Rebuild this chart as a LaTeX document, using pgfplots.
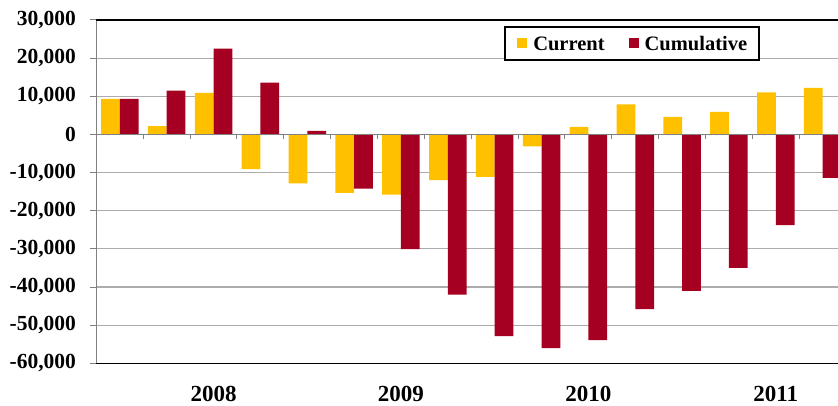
\documentclass[border=0pt]{standalone}
\usepackage{pgfplots}
\usepackage{pgfplotstable}
\pgfplotsset{compat=1.18}
\usepackage{fontspec}
\setmainfont{Liberation Serif}
\definecolor{cyel}{HTML}{FFC000}
\definecolor{cred}{HTML}{A50021}
\pgfplotstableread{
i cur cum
0 9300 9300
1 2200 11500
2 10900 22500
3 -9100 13600
4 -12800 900
5 -15300 -14200
6 -15800 -30100
7 -12000 -42000
8 -11100 -52900
9 -3100 -56000
10 2000 -53900
11 7900 -45800
12 4600 -41000
13 5900 -35000
14 11000 -23800
15 12200 -11400
}\datatable
\begin{document}
\begin{tikzpicture}
\useasboundingbox (0,0) rectangle (838bp,406bp);
\begin{axis}[
 at={(96.4bp,42.7bp)}, anchor=south west,
 scale only axis, width=741.6bp, height=343.3bp,
 xmin=-0.5, xmax=15.327, ymin=-60000, ymax=30000,
 scaled y ticks=false,
 axis line style={draw=none},
 clip mode=individual,
 ybar, bar width=0.4,
 ytick={-60000,-50000,-40000,-30000,-20000,-10000,0,10000,20000,30000},
 yticklabels={{-60,000},{-50,000},{-40,000},{-30,000},{-20,000},{-10,000},{0},{10,000},{20,000},{30,000}},
 xtick={2,6,10,14}, xticklabels={2008,2009,2010,2011},
 tick align=outside, major tick length=6bp, tick pos=left,
 xtick style={draw=none},
 ytick style={draw=gray, line width=1bp},
 ymajorgrids, grid style={draw=gray!65, line width=1.2bp},
 yticklabel style={font=\fontsize{21.5bp}{24bp}\selectfont\bfseries, xshift=-11bp},
 xticklabel style={font=\fontsize{23bp}{26bp}\selectfont\bfseries, text depth=0bp, yshift=-13bp},
 legend columns=2,
 legend image code/.code={\fill[#1] (0bp,-5bp) rectangle (10bp,5bp);},
 legend style={at={(0.7225,0.9316)}, anchor=center, draw=black, line width=2bp,
   inner xsep=12bp, inner ysep=9.5bp,
   cells={anchor=center},
   nodes={inner sep=0bp, text height=14bp, text depth=0bp, font=\fontsize{20.5bp}{24bp}\selectfont\bfseries},
   /tikz/every odd column/.append style={column sep=6bp},
   /tikz/every even column/.append style={column sep=24bp}},
]
\addplot[fill=cyel, draw=none, bar shift=-0.2] table[x=i,y=cur]{\datatable};
\addplot[fill=cred, draw=none, bar shift=0.2] table[x=i,y=cum]{\datatable};
\legend{Current,Cumulative}
\draw[gray, line width=1.2bp] (axis cs:-0.5,0) -- (axis cs:15.327,0);
\pgfplotsinvokeforeach{0.5,1.5,2.5,3.5,4.5,5.5,6.5,7.5,8.5,9.5,10.5,11.5,12.5,13.5,14.5}{\draw[gray,line width=1bp] (axis cs:#1,0) -- ([yshift=-5bp]axis cs:#1,0);}
\draw[gray, line width=1.2bp] (rel axis cs:0,0) -- (rel axis cs:0,1);
\draw[black, line width=1.5bp] (rel axis cs:0,1) -- (rel axis cs:1,1);
\draw[black, line width=1.5bp] (rel axis cs:0,0) -- (rel axis cs:1,0);
\end{axis}
\end{tikzpicture}
\end{document}
